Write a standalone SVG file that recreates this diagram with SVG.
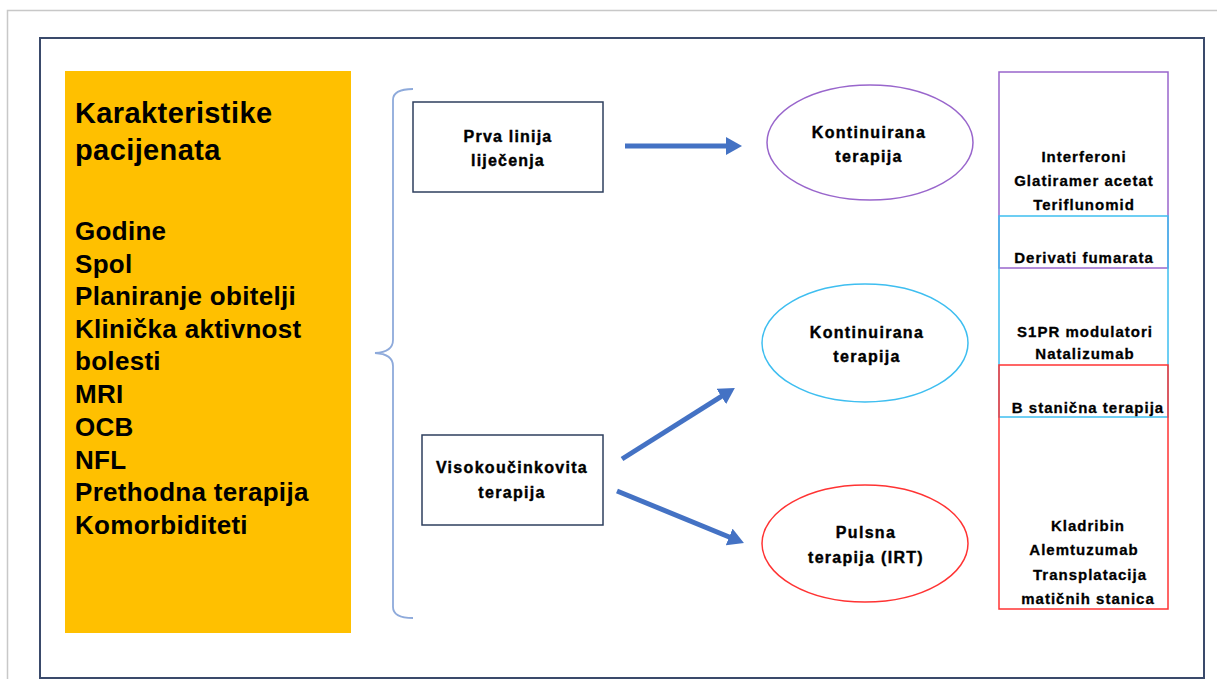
<svg xmlns="http://www.w3.org/2000/svg" width="1217" height="679" viewBox="0 0 1217 679">
<style>
  text { font-family: "Liberation Sans", Arial, sans-serif; font-weight: bold; fill: #000; }
  .big { font-size: 26px; letter-spacing: 0.3px; }
  .head { font-size: 29px; letter-spacing: 0.4px; }
  .box { fill: #fff; stroke: #2e3f5e; stroke-width: 1.5; }
  .lbl { font-size: 16px; text-anchor: middle; letter-spacing: 1.2px; stroke: #000; stroke-width: 0.4px; }
  .mid { font-size: 16px; text-anchor: middle; letter-spacing: 1.3px; stroke: #000; stroke-width: 0.4px; }
  .col { font-size: 15px; text-anchor: middle; letter-spacing: 1px; stroke: #000; stroke-width: 0.3px; }
  .arrow { stroke: #4472c4; stroke-width: 5; fill: none; marker-end: url(#ah); }
</style>
<defs>
  <marker id="ah" viewBox="0 0 16 18" refX="2" refY="9" markerWidth="16" markerHeight="18" markerUnits="userSpaceOnUse" orient="auto">
    <path d="M0,0 L16,9 L0,18 Z" fill="#4472c4"/>
  </marker>
</defs>
<rect x="0" y="0" width="1217" height="679" fill="#fff"/>
<rect x="7.5" y="10.5" width="1220" height="680" fill="none" stroke="#c8c8c8" stroke-width="1.5"/>
<rect x="40" y="38" width="1164" height="640" fill="#fff" stroke="#3a4a6b" stroke-width="2"/>

<g id="patient-characteristics">
  <rect x="65" y="71" width="286" height="562" fill="#ffc000"/>
  <text class="head" x="75" y="123">Karakteristike</text>
  <text class="head" x="75" y="160">pacijenata</text>
  <text class="big" x="75" y="240">Godine</text>
  <text class="big" x="75" y="273">Spol</text>
  <text class="big" x="75" y="305">Planiranje obitelji</text>
  <text class="big" x="75" y="338">Klinička aktivnost</text>
  <text class="big" x="75" y="370">bolesti</text>
  <text class="big" x="75" y="403">MRI</text>
  <text class="big" x="75" y="436">OCB</text>
  <text class="big" x="75" y="469">NFL</text>
  <text class="big" x="75" y="501">Prethodna terapija</text>
  <text class="big" x="75" y="534">Komorbiditeti</text>
</g>

<g id="bracket">
  <path d="M413,89 Q393,89 393,100 L393,340 Q393,352 375,353 Q393,354 393,366 L393,607 Q393,618 413,618" fill="none" stroke="#8eaadb" stroke-width="1.8"/>
</g>

<g id="first-line">
  <rect class="box" x="413" y="102" width="190" height="90"/>
  <text class="lbl" x="508" y="142">Prva linija</text>
  <text class="lbl" x="508" y="166">liječenja</text>
</g>

<g id="high-efficacy">
  <rect class="box" x="422" y="435" width="181" height="90"/>
  <text class="mid" x="512" y="473">Visokoučinkovita</text>
  <text class="mid" x="512" y="498">terapija</text>
</g>

<g id="continuous-1">
  <ellipse cx="870" cy="142.5" rx="103" ry="57.5" fill="#fff" stroke="#9966cc" stroke-width="1.5"/>
  <text class="mid" x="869" y="138">Kontinuirana</text>
  <text class="mid" x="869" y="162">terapija</text>
</g>

<g id="continuous-2">
  <ellipse cx="865" cy="343" rx="103" ry="59" fill="#fff" stroke="#3ebef0" stroke-width="1.5"/>
  <text class="mid" x="867" y="338">Kontinuirana</text>
  <text class="mid" x="867" y="362">terapija</text>
</g>

<g id="pulse">
  <ellipse cx="865" cy="543.5" rx="103" ry="58.5" fill="#fff" stroke="#ff3333" stroke-width="1.5"/>
  <text class="mid" x="866" y="538">Pulsna</text>
  <text class="mid" x="866" y="563">terapija (IRT)</text>
</g>

<g id="drugs">
  <rect x="999" y="72" width="169" height="196" fill="none" stroke="#9966cc" stroke-width="1.5"/>
  <rect x="999" y="216" width="169" height="201" fill="none" stroke="#3ebef0" stroke-width="1.5"/>
  <rect x="999" y="365" width="169" height="244" fill="none" stroke="#ff3333" stroke-width="1.5"/>
  <text class="col" x="1084" y="162">Interferoni</text>
  <text class="col" x="1084" y="186">Glatiramer acetat</text>
  <text class="col" x="1084" y="210">Teriflunomid</text>
  <text class="col" x="1084" y="263">Derivati fumarata</text>
  <text class="col" x="1085" y="337">S1PR modulatori</text>
  <text class="col" x="1085" y="359">Natalizumab</text>
  <text class="col" x="1088" y="413">B stanična terapija</text>
  <text class="col" x="1088" y="531">Kladribin</text>
  <text class="col" x="1084" y="555">Alemtuzumab</text>
  <text class="col" x="1090" y="580">Transplatacija</text>
  <text class="col" x="1088" y="604">matičnih stanica</text>
</g>

<g id="connectors">
  <line class="arrow" x1="625" y1="146" x2="728" y2="146"/>
  <line class="arrow" x1="622" y1="459" x2="723" y2="395.4"/>
  <line class="arrow" x1="617" y1="491" x2="731" y2="537.7"/>
</g>
</svg>
